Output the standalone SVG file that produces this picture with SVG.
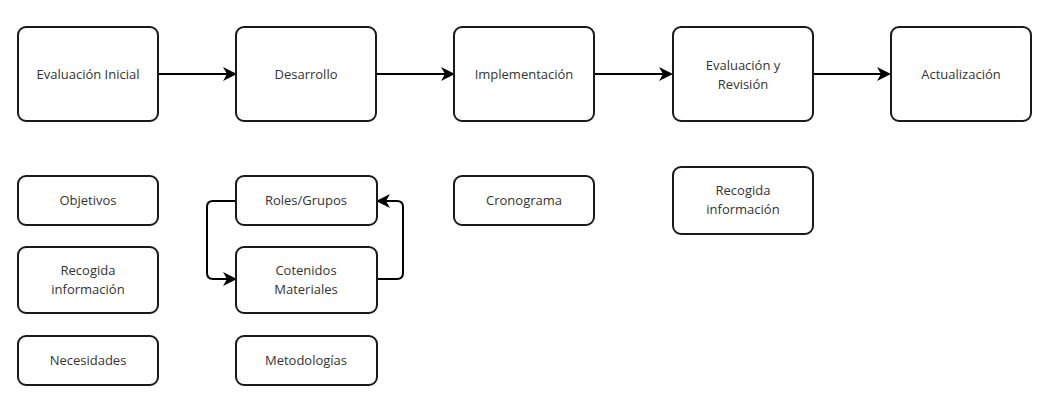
<svg xmlns="http://www.w3.org/2000/svg" width="1041" height="402" viewBox="0 0 1041 402">
<defs>
<style>
.box{fill:#fff;stroke:#1a1a1a;stroke-width:2}
.t{font-family:"Open Sans","Noto Sans",sans-serif;font-size:13px;fill:#333;text-anchor:middle}
.c{fill:none;stroke:#000;stroke-width:2;stroke-linejoin:round}
</style>
<marker id="ah" markerWidth="14" markerHeight="14" refX="12" refY="7" orient="auto" markerUnits="userSpaceOnUse">
<path d="M0,0 L14,7 L0,14 L4,7 Z" fill="#000"/>
</marker>
</defs>
<rect width="1041" height="402" fill="#fff"/>
<g id="connectors">
<path class="c" d="M158,74 H235" marker-end="url(#ah)"/>
<path class="c" d="M376,74 H453" marker-end="url(#ah)"/>
<path class="c" d="M594,74 H671" marker-end="url(#ah)"/>
<path class="c" d="M813,74 H889" marker-end="url(#ah)"/>
<path class="c" d="M236,201 H213 Q207,201 207,207 V273 Q207,279 213,279 H235" marker-end="url(#ah)"/>
<path class="c" d="M377,279 H397 Q403,279 403,273 V207 Q403,201 397,201 H378" marker-end="url(#ah)"/>
</g>
<g id="n1"><rect class="box" x="18" y="27" width="140" height="94" rx="8"/><text class="t" x="88" y="79">Evaluación Inicial</text></g>
<g id="n2"><rect class="box" x="236" y="27" width="140" height="94" rx="8"/><text class="t" x="306" y="79">Desarrollo</text></g>
<g id="n3"><rect class="box" x="454" y="27" width="140" height="94" rx="8"/><text class="t" x="524" y="79">Implementación</text></g>
<g id="n4"><rect class="box" x="673" y="27" width="140" height="94" rx="8"/><text class="t" x="743" y="70">Evaluación y</text><text class="t" x="743" y="89">Revisión</text></g>
<g id="n5"><rect class="box" x="891" y="27" width="140" height="94" rx="8"/><text class="t" x="961" y="79">Actualización</text></g>
<g id="n6"><rect class="box" x="18" y="176" width="140" height="49" rx="8"/><text class="t" x="88" y="205">Objetivos</text></g>
<g id="n7"><rect class="box" x="18" y="247" width="140" height="66" rx="8"/><text class="t" x="88" y="275">Recogida</text><text class="t" x="88" y="294">información</text></g>
<g id="n8"><rect class="box" x="18" y="336" width="140" height="49" rx="8"/><text class="t" x="88" y="365">Necesidades</text></g>
<g id="n9"><rect class="box" x="236" y="176" width="141" height="49" rx="8"/><text class="t" x="306" y="205">Roles/Grupos</text></g>
<g id="n10"><rect class="box" x="236" y="247" width="141" height="66" rx="8"/><text class="t" x="306" y="275">Cotenidos</text><text class="t" x="306" y="294">Materiales</text></g>
<g id="n11"><rect class="box" x="236" y="336" width="141" height="49" rx="8"/><text class="t" x="306" y="365">Metodologías</text></g>
<g id="n12"><rect class="box" x="454" y="176" width="140" height="49" rx="8"/><text class="t" x="524" y="205">Cronograma</text></g>
<g id="n13"><rect class="box" x="673" y="167" width="140" height="67" rx="8"/><text class="t" x="743" y="195">Recogida</text><text class="t" x="743" y="214">información</text></g>
</svg>
